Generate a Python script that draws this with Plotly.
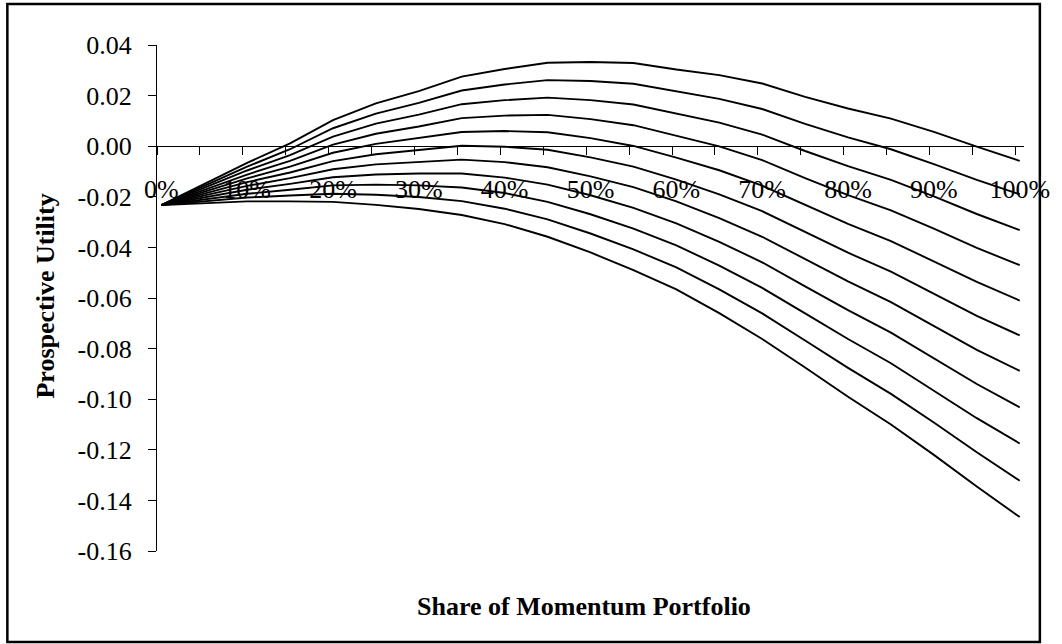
import plotly.graph_objects as go

share_pct = [0, 5, 10, 15, 20, 25, 30, 35, 40, 45, 50, 55, 60, 65, 70, 75, 80, 85, 90, 95, 100]

curve_1 = [-0.0233, -0.0150, -0.0066, 0.0011, 0.0103, 0.0169, 0.0218, 0.0275, 0.0305, 0.0330, 0.0333, 0.0329, 0.0303, 0.0281, 0.0248, 0.0195, 0.0149, 0.0109, 0.0057, -0.0002, -0.0058]
curve_2 = [-0.0233, -0.0158, -0.0081, -0.0012, 0.0071, 0.0129, 0.0171, 0.0220, 0.0244, 0.0261, 0.0258, 0.0247, 0.0216, 0.0187, 0.0147, 0.0088, 0.0035, -0.0012, -0.0071, -0.0133, -0.0190]
curve_3 = [-0.0233, -0.0165, -0.0096, -0.0035, 0.0038, 0.0089, 0.0125, 0.0166, 0.0182, 0.0192, 0.0182, 0.0165, 0.0129, 0.0093, 0.0046, -0.0019, -0.0079, -0.0133, -0.0198, -0.0268, -0.0332]
curve_4 = [-0.0233, -0.0173, -0.0112, -0.0058, 0.0006, 0.0049, 0.0078, 0.0111, 0.0121, 0.0124, 0.0107, 0.0083, 0.0042, -0.0001, -0.0055, -0.0126, -0.0193, -0.0254, -0.0326, -0.0402, -0.0470]
curve_5 = [-0.0233, -0.0180, -0.0127, -0.0081, -0.0026, 0.0009, 0.0032, 0.0056, 0.0060, 0.0055, 0.0032, 0.0001, -0.0045, -0.0095, -0.0156, -0.0233, -0.0307, -0.0375, -0.0454, -0.0536, -0.0610]
curve_6 = [-0.0233, -0.0188, -0.0142, -0.0104, -0.0059, -0.0032, -0.0015, 0.0002, -0.0002, -0.0014, -0.0044, -0.0081, -0.0132, -0.0190, -0.0257, -0.0340, -0.0421, -0.0496, -0.0582, -0.0671, -0.0748]
curve_7 = [-0.0233, -0.0195, -0.0157, -0.0126, -0.0091, -0.0072, -0.0062, -0.0053, -0.0063, -0.0083, -0.0119, -0.0162, -0.0218, -0.0284, -0.0358, -0.0447, -0.0534, -0.0616, -0.0709, -0.0805, -0.0888]
curve_8 = [-0.0233, -0.0203, -0.0172, -0.0149, -0.0123, -0.0112, -0.0108, -0.0108, -0.0124, -0.0152, -0.0194, -0.0244, -0.0305, -0.0378, -0.0459, -0.0554, -0.0648, -0.0737, -0.0837, -0.0940, -0.1032]
curve_9 = [-0.0233, -0.0210, -0.0188, -0.0172, -0.0155, -0.0152, -0.0155, -0.0163, -0.0185, -0.0220, -0.0269, -0.0326, -0.0392, -0.0472, -0.0560, -0.0661, -0.0762, -0.0858, -0.0965, -0.1075, -0.1175]
curve_10 = [-0.0233, -0.0218, -0.0203, -0.0195, -0.0188, -0.0192, -0.0201, -0.0217, -0.0247, -0.0289, -0.0345, -0.0408, -0.0479, -0.0566, -0.0661, -0.0768, -0.0876, -0.0979, -0.1092, -0.1210, -0.1322]
curve_11 = [-0.0233, -0.0225, -0.0218, -0.0218, -0.0220, -0.0232, -0.0248, -0.0272, -0.0308, -0.0358, -0.0420, -0.0490, -0.0566, -0.0660, -0.0762, -0.0875, -0.0990, -0.1100, -0.1220, -0.1345, -0.1466]

curves = [curve_1, curve_2, curve_3, curve_4, curve_5, curve_6,
          curve_7, curve_8, curve_9, curve_10, curve_11]

x_tick_vals = [0, 10, 20, 30, 40, 50, 60, 70, 80, 90, 100]
x_tick_text = ["0%", "10%", "20%", "30%", "40%", "50%", "60%", "70%", "80%", "90%", "100%"]
y_tick_vals = [-0.16, -0.14, -0.12, -0.10, -0.08, -0.06, -0.04, -0.02, 0.00, 0.02, 0.04]
y_tick_text = ["-0.16", "-0.14", "-0.12", "-0.10", "-0.08", "-0.06", "-0.04", "-0.02", "0.00", "0.02", "0.04"]

FONT = "Liberation Serif, Times New Roman, serif"

fig = go.Figure()
for i, c in enumerate(curves):
    fig.add_trace(go.Scatter(x=share_pct, y=c, mode="lines",
                             line=dict(color="black", width=1.9),
                             showlegend=False, hoverinfo="skip"))

fig.update_layout(
    width=1062, height=644,
    margin=dict(l=157, r=31, t=45, b=93),
    paper_bgcolor="white", plot_bgcolor="white",
    font=dict(family=FONT, color="black", size=26),
    xaxis=dict(
        range=[-0.5, 100.5], anchor="free", position=0.8,
        showgrid=False, zeroline=False,
        showline=True, linecolor="black", linewidth=1.2,
        tickmode="array", tickvals=x_tick_vals, ticktext=x_tick_text,
        ticks="", ticklabelstandoff=19,
        tickfont=dict(family=FONT, size=26, color="black"),
        minor=dict(tickmode="linear", tick0=-0.5, dtick=5, ticks="outside",
                   ticklen=8, tickcolor="black", tickwidth=1.2, showgrid=False),
    ),
    yaxis=dict(
        range=[-0.16, 0.04], domain=[0, 1],
        showgrid=False, zeroline=False,
        showline=True, linecolor="black", linewidth=1.2,
        tickmode="array", tickvals=y_tick_vals, ticktext=y_tick_text,
        ticks="outside", ticklen=8, tickcolor="black", tickwidth=1.2,
        ticklabelstandoff=11,
        tickfont=dict(family=FONT, size=26, color="black"),
    ),
    shapes=[dict(type="rect", xref="paper", yref="paper",
                 x0=-0.1726, x1=1.0183, y0=-0.1798, y1=1.081,
                 line=dict(color="black", width=2.5), layer="below")],
    annotations=[
        dict(text="<b>Share of Momentum Portfolio</b>", xref="paper", yref="paper",
             x=0.493, y=-0.1087, showarrow=False, xanchor="center", yanchor="middle",
             font=dict(family=FONT, size=26, color="black")),
        dict(text="<b>Prospective Utility</b>", xref="paper", yref="paper",
             x=-0.1285, y=0.504, showarrow=False, xanchor="center", yanchor="middle",
             textangle=-90, font=dict(family=FONT, size=26, color="black")),
    ],
)

fig.write_html("out.html", config={"displayModeBar": False},
               post_script="document.body.style.margin='0';")
